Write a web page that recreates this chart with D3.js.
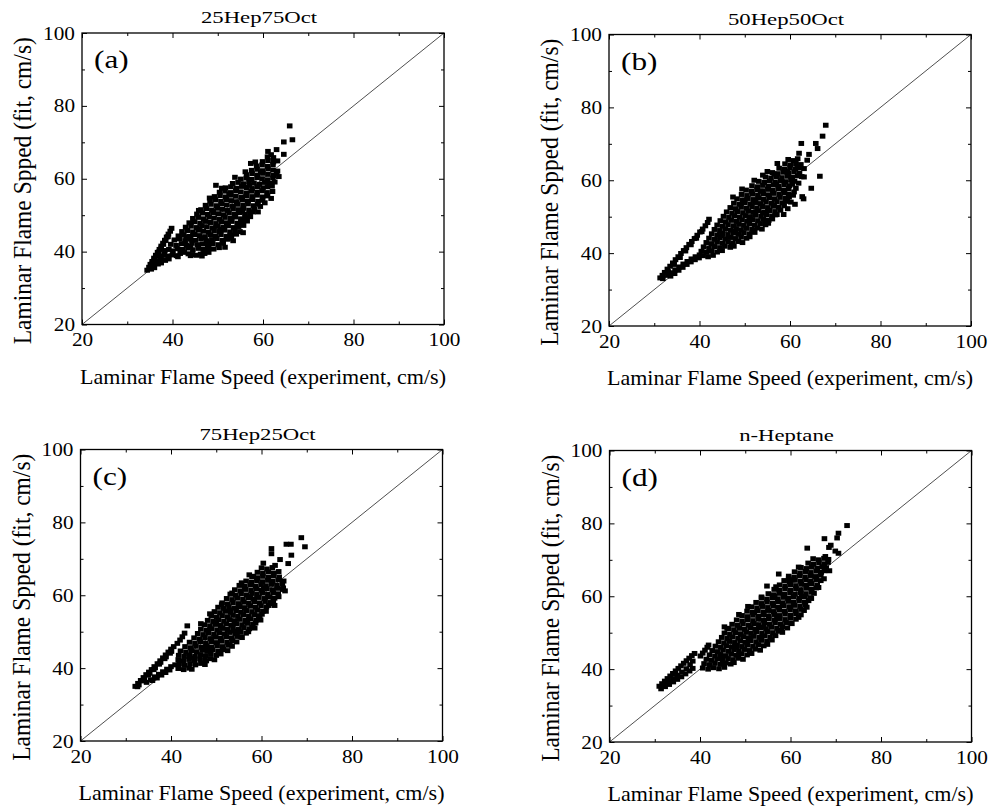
<!DOCTYPE html>
<html lang='en'>
<head>
<meta charset="utf-8">
<script src="https://d3js.org/d3.v7.min.js"></script>
<style>
  *{margin:0;padding:0}
  body{background:#fff}
</style>
</head>
<body>
<script>
// ---- data (experiment, fit) in cm/s ----
const panelTitles = ['25Hep75Oct', '50Hep50Oct', '75Hep25Oct', 'n-Heptane'];
const panelTags = ['(a)', '(b)', '(c)', '(d)'];
const majorTicks = [20, 40, 60, 80, 100];
const minorTicks = [30, 50, 70, 90];
const xTitle = 'Laminar Flame Speed (experiment, cm/s)';
const yTitle = 'Laminar Flame Spped (fit, cm/s)';

const pointsA = [
  [34.4,34.9],[34.8,35.7],[35.1,36.5],[35.5,37.3],[35.9,38.2],[36.3,39.0],[36.7,39.8],[37.1,40.6],[37.5,41.5],[37.9,42.3],
  [38.3,43.1],[38.7,44.0],[39.1,44.8],[39.5,45.6],[39.8,46.4],
  [35.0,35.4],[35.5,36.6],[36.0,37.7],[36.5,38.8],[37.0,39.9],[37.5,41.0],[38.0,42.0],[38.5,43.1],[39.0,44.1],
  [35.3,35.2],[36.0,35.6],[35.9,36.3],[36.8,36.6],[37.5,36.9],[36.6,37.5],[37.5,37.8],[38.4,37.6],[39.2,38.0],
  [37.3,38.7],[38.2,39.0],[39.1,38.8],[40.0,39.1],[40.9,38.9],
  [41.7,39.5],[42.6,39.8],[43.5,39.4],[44.4,39.2],[45.3,39.0],[46.2,39.3],[47.1,39.5],[48.0,39.8],
  [38.3,40.3],[39.2,40.6],[40.1,40.2],[41.1,40.8],[42.2,40.6],[43.4,41.0],[44.5,40.5],[45.7,40.9],[46.8,40.6],[48.0,41.0],[49.1,40.7],[50.3,41.1],
  [39.6,42.0],[40.8,41.7],[42.0,42.2],[43.1,41.8],[44.3,42.3],[45.5,41.9],[46.6,42.1],[47.8,41.7],[48.9,42.2],[50.1,41.9],[51.2,42.3],
  [40.4,43.2],[41.6,43.5],[42.8,43.0],[44.0,43.4],[45.1,43.1],[46.3,43.5],[47.5,43.0],[48.7,43.3],[49.8,43.6],[51.0,43.1],[52.2,43.4],[53.0,43.7],
  [41.3,44.3],[42.5,44.6],[43.7,44.2],[44.9,44.7],[46.0,44.4],[47.2,44.1],[48.4,44.6],[49.5,44.3],[50.7,44.7],[51.9,44.2],[53.0,44.5],[54.1,44.8],
  [42.1,45.5],[43.3,45.8],[44.5,45.4],[45.7,45.9],[46.8,45.6],[48.0,45.3],[49.2,45.8],[50.4,45.5],[51.5,45.9],[52.7,45.4],[53.8,45.7],[54.9,45.5],
  [42.9,46.7],[44.1,47.0],[45.3,46.6],[46.5,47.1],[47.6,46.8],[48.8,46.5],[50.0,47.0],[51.2,46.7],[52.3,47.1],[53.5,46.6],[54.6,46.9],[55.7,47.2],
  [43.7,47.9],[44.9,48.2],[46.1,47.8],[47.3,48.3],[48.4,48.0],[49.6,47.7],[50.8,48.2],[52.0,47.9],[53.1,48.3],[54.3,47.8],[55.4,48.1],[56.5,48.4],
  [44.5,49.1],[45.7,49.4],[46.9,49.0],[48.1,49.5],[49.2,49.2],[50.4,48.9],[51.6,49.4],[52.8,49.1],[53.9,49.5],[55.1,49.0],[56.2,49.3],[57.2,49.6],
  [45.4,50.3],[46.6,50.6],[47.8,50.2],[49.0,50.7],[50.1,50.4],[51.3,50.1],[52.5,50.6],[53.7,50.3],[54.8,50.7],[56.0,50.2],[57.1,50.5],[57.8,50.9],
  [46.3,51.5],[47.5,51.8],[48.7,51.4],[49.9,51.9],[51.0,51.6],[52.2,51.3],[53.4,51.8],[54.6,51.5],[55.7,51.9],[56.9,51.4],[58.1,51.7],
  [47.3,52.7],[48.5,53.0],[49.7,52.6],[50.9,53.1],[52.0,52.8],[53.2,52.5],[54.4,53.0],[55.6,52.7],[56.7,53.1],[57.9,52.6],[58.8,53.0],
  [48.3,53.9],[49.5,54.2],[50.7,53.8],[51.9,54.3],[53.0,54.0],[54.2,53.7],[55.4,54.2],[56.6,53.9],[57.7,54.3],[58.9,53.8],[59.9,54.1],
  [49.3,55.1],[50.5,55.4],[51.7,55.0],[52.9,55.5],[54.0,55.2],[55.2,54.9],[56.4,55.4],[57.6,55.1],[58.7,55.5],[59.9,55.0],[61.0,55.3],[61.8,54.6],
  [50.4,56.3],[51.6,56.6],[52.8,56.2],[54.0,56.7],[55.1,56.4],[56.3,56.1],[57.5,56.6],[58.7,56.3],[59.8,56.7],[60.9,56.2],
  [51.7,57.5],[52.9,57.8],[54.1,57.4],[55.3,57.9],[56.4,57.6],[57.6,57.3],[58.8,57.8],[60.0,57.5],[61.0,57.8],
  [53.3,58.7],[54.5,59.0],[55.7,58.6],[56.9,59.1],[58.0,58.8],[59.2,58.5],[60.4,59.0],[61.4,58.7],
  [55.1,59.9],[56.3,60.2],[57.5,59.8],[58.7,60.3],[59.8,60.0],[61.0,59.7],[62.2,60.2],
  [56.4,61.1],[57.6,61.4],[58.8,61.0],[60.0,61.5],[61.1,61.2],[62.3,60.9],[63.0,61.4],
  [57.5,62.3],[58.7,62.6],[59.9,62.2],[61.1,62.7],[62.2,62.4],[63.2,62.1],
  [58.6,63.5],[59.8,63.8],[61.0,63.4],[62.2,63.9],[59.9,64.7],[61.1,65.0],[62.3,64.6],[63.2,64.9],[61.0,66.0],[62.3,65.8],
  [44.0,41.4],[47.0,43.8],[50.5,46.2],[53.0,48.6],[55.5,51.0],[49.0,51.0],[46.0,46.2],[52.5,55.8],[57.0,58.2],[59.5,61.8],[43.0,44.0],[48.5,42.5],
  [58.9,50.9],[59.4,52.4],[60.4,53.4],[62.1,56.5],[62.0,58.0],[62.6,59.1],[63.5,60.6],[45.8,51.3],[48.2,54.7],[50.9,57.4],
  [53.8,60.4],[56.1,61.9],[58.3,64.6],[51.6,41.2],[53.4,43.0],[55.6,45.2],[41.2,38.6],[44.0,38.9],[46.5,38.8],
  [49.6,58.2],[57.3,64.2],[61.1,67.5],[63.0,68.0],[64.6,66.7],[64.6,70.1],[66.5,70.7],[65.9,74.5],[61.8,66.6]
];

const pointsB = [
  [31.3,33.2],[31.8,33.9],[32.3,34.7],[32.9,35.6],[33.5,36.4],[34.1,37.3],[34.7,38.2],[35.3,39.0],[35.9,39.9],[36.5,40.7],
  [37.1,41.5],[37.7,42.4],[38.3,43.2],[38.9,44.0],[39.5,44.9],[40.1,45.8],[40.7,46.6],[41.3,47.5],[41.8,48.4],[42.1,49.3],
  [31.9,33.0],[33.1,34.9],[34.4,36.9],[35.7,38.8],[36.9,40.6],[38.1,42.3],[39.3,44.1],[40.5,45.9],
  [33.0,33.9],[33.8,34.6],[34.6,35.4],[35.5,36.2],[36.4,37.0],[37.3,37.7],[38.2,38.4],[39.1,39.0],[40.0,39.5],
  [33.6,33.7],[34.5,34.4],[35.4,35.3],[36.3,36.1],[37.2,36.9],[38.1,37.6],[39.0,38.2],[39.9,38.7],
  [40.8,39.3],[41.9,39.0],[43.0,39.4],
  [40.4,40.5],[41.6,40.2],[42.7,40.6],[43.9,40.3],[45.0,40.7],
  [40.9,41.7],[42.1,41.4],[43.3,41.8],[44.5,41.5],[45.6,41.9],[46.8,41.6],[47.6,41.9],
  [41.5,42.9],[42.7,42.6],[43.9,43.0],[45.1,42.7],[46.3,43.1],[47.4,42.8],[48.6,43.2],[49.5,42.9],
  [42.1,44.1],[43.3,43.8],[44.5,44.2],[45.7,43.9],[46.9,44.3],[48.0,44.0],[49.2,44.4],[50.4,44.1],[51.1,44.5],
  [42.7,45.3],[43.9,45.0],[45.1,45.4],[46.3,45.1],[47.5,45.5],[48.6,45.2],[49.8,45.6],[51.0,45.3],[52.2,45.7],
  [43.3,46.5],[44.5,46.2],[45.7,46.6],[46.9,46.3],[48.1,46.7],[49.2,46.4],[50.4,46.8],[51.6,46.5],[52.8,46.9],[53.8,46.6],
  [43.9,47.7],[45.1,47.4],[46.3,47.8],[47.5,47.5],[48.7,47.9],[49.8,47.6],[51.0,48.0],[52.2,47.7],[53.4,48.1],[54.6,47.8],[55.2,48.2],
  [44.6,48.9],[45.8,48.6],[47.0,49.0],[48.2,48.7],[49.4,49.1],[50.5,48.8],[51.7,49.2],[52.9,48.9],[54.1,49.3],[55.3,49.0],[56.1,49.4],
  [45.3,50.1],[46.5,49.8],[47.7,50.2],[48.9,49.9],[50.1,50.3],[51.2,50.0],[52.4,50.4],[53.6,50.1],[54.8,50.5],[56.0,50.2],[57.1,50.6],
  [46.0,51.3],[47.2,51.0],[48.4,51.4],[49.6,51.1],[50.8,51.5],[51.9,51.2],[53.1,51.6],[54.3,51.3],[55.5,51.7],[56.7,51.4],[57.9,51.8],
  [46.8,52.5],[48.0,52.2],[49.2,52.6],[50.4,52.3],[51.6,52.7],[52.7,52.4],[53.9,52.8],[55.1,52.5],[56.3,52.9],[57.5,52.6],[58.7,53.0],
  [47.6,53.7],[48.8,53.4],[50.0,53.8],[51.2,53.5],[52.4,53.9],[53.5,53.6],[54.7,54.0],[55.9,53.7],[57.1,54.1],[58.3,53.8],[59.4,54.2],
  [48.3,54.9],[49.5,54.6],[50.7,55.0],[51.9,54.7],[53.1,55.1],[54.2,54.8],[55.4,55.2],[56.6,54.9],[57.8,55.3],[59.0,55.0],[59.8,55.4],
  [49.3,56.1],[50.5,55.8],[51.7,56.2],[52.9,55.9],[54.1,56.3],[55.2,56.0],[56.4,56.4],[57.6,56.1],[58.8,56.5],[59.7,56.2],
  [50.3,57.3],[51.5,57.0],[52.7,57.4],[53.9,57.1],[55.1,57.5],[56.2,57.2],[57.4,57.6],[58.6,57.3],[59.7,57.7],
  [51.6,58.5],[52.8,58.2],[54.0,58.6],[55.2,58.3],[56.4,58.7],[57.5,58.4],[58.7,58.8],[59.9,58.5],[60.5,58.9],
  [53.1,59.7],[54.3,59.4],[55.5,59.8],[56.7,59.5],[57.9,59.9],[59.0,59.6],[60.2,60.0],[61.0,59.7],
  [54.6,60.9],[55.8,60.6],[57.0,61.0],[58.2,60.7],[59.4,61.1],[60.5,60.8],[61.7,61.2],
  [56.1,62.1],[57.3,61.8],[58.5,62.2],[59.7,61.9],[60.9,62.3],[62.1,62.0],
  [57.6,63.3],[58.8,63.0],[60.0,63.4],[61.2,63.1],[62.2,63.5],[58.9,64.5],[60.1,64.2],[61.3,64.6],[62.4,64.3],
  [59.6,65.7],[60.8,65.4],[61.7,65.9],
  [45.0,44.8],[48.0,46.0],[51.0,49.0],[54.0,51.0],[56.5,53.0],[50.0,54.5],[53.5,57.0],[57.0,59.0],[59.5,62.5],[47.0,42.2],
  [58.6,50.6],[59.5,52.2],[60.2,54.0],[61.3,57.8],[61.9,59.2],[62.6,61.0],[47.4,55.4],[49.4,57.6],[52.1,60.0],[55.0,62.4],
  [57.2,64.6],[52.0,46.2],[54.5,48.2],[56.8,50.5],
  [54.0,61.4],[56.5,61.7],[60.7,55.9],[60.9,56.8],[61.1,53.4],[62.7,55.5],[63.0,54.9],[64.7,57.8],[63.1,60.9],[66.6,61.1],
  [61.6,63.7],[63.1,63.2],[63.8,65.5],[62.0,67.4],[62.5,70.1],[64.2,67.1],[65.7,70.1],[66.1,68.7],[67.2,72.1],[67.9,75.1]
];

const pointsC = [
  [32.1,35.0],[32.7,35.8],[33.3,36.6],[33.9,37.4],[34.5,38.2],[35.1,38.9],[35.7,39.6],[36.3,40.4],[37.0,41.2],[37.6,42.0],
  [38.2,42.8],[38.8,43.6],[39.4,44.4],[40.0,45.2],[40.6,45.9],[41.4,46.8],[42.0,47.7],[42.5,48.6],[43.0,49.6],[43.6,51.6],
  [32.6,34.9],[33.8,36.5],[35.0,38.1],[36.2,39.6],[37.4,41.1],[38.6,42.6],[39.8,44.1],
  [32.9,35.4],[34.1,37.0],[35.3,38.6],[36.5,40.1],[37.7,41.6],[38.9,43.1],[40.1,44.6],
  [34.6,36.1],[35.5,36.8],[36.4,37.6],[37.3,38.3],[38.2,39.0],[39.1,39.7],[40.0,40.4],[40.9,40.9],
  [35.9,36.6],[36.9,37.3],[37.9,38.1],[38.8,38.8],[39.7,39.5],
  [41.6,39.9],[42.8,39.6],[44.0,40.0],[44.6,39.7],
  [41.8,41.1],[43.0,40.8],[44.2,41.2],[45.4,40.9],[46.6,41.3],[47.5,41.0],
  [41.6,42.3],[42.8,42.0],[44.0,42.4],[45.2,42.1],[46.4,42.5],[47.5,42.2],[48.7,42.6],[49.6,42.3],
  [41.7,43.5],[42.9,43.2],[44.1,43.6],[45.3,43.3],[46.5,43.7],[47.6,43.4],[48.8,43.8],[50.0,43.5],[51.0,43.9],
  [42.1,44.7],[43.3,44.4],[44.5,44.8],[45.7,44.5],[46.9,44.9],[48.0,44.6],[49.2,45.0],[50.4,44.7],[51.6,45.1],[52.5,44.8],
  [43.1,45.9],[44.3,45.6],[45.5,46.0],[46.7,45.7],[47.9,46.1],[49.0,45.8],[50.2,46.2],[51.4,45.9],[52.6,46.3],[53.5,46.0],
  [44.1,47.1],[45.3,46.8],[46.5,47.2],[47.7,46.9],[48.9,47.3],[50.0,47.0],[51.2,47.4],[52.4,47.1],[53.6,47.5],[54.5,47.2],
  [45.1,48.3],[46.3,48.0],[47.5,48.4],[48.7,48.1],[49.9,48.5],[51.0,48.2],[52.2,48.6],[53.4,48.3],[54.6,48.7],[55.7,48.4],
  [45.9,49.5],[47.1,49.2],[48.3,49.6],[49.5,49.3],[50.7,49.7],[51.8,49.4],[53.0,49.8],[54.2,49.5],[55.4,49.9],[56.6,49.6],[57.1,50.0],
  [46.6,50.7],[47.8,50.4],[49.0,50.8],[50.2,50.5],[51.4,50.9],[52.5,50.6],[53.7,51.0],[54.9,50.7],[56.1,51.1],[57.3,50.8],[57.9,51.2],
  [47.4,51.9],[48.6,51.6],[49.8,52.0],[51.0,51.7],[52.2,52.1],[53.3,51.8],[54.5,52.2],[55.7,51.9],[56.9,52.3],[58.1,52.0],[58.7,52.4],
  [48.1,53.1],[49.3,52.8],[50.5,53.2],[51.7,52.9],[52.9,53.3],[54.0,53.0],[55.2,53.4],[56.4,53.1],[57.6,53.5],[58.8,53.2],[59.4,53.6],
  [48.9,54.3],[50.1,54.0],[51.3,54.4],[52.5,54.1],[53.7,54.5],[54.8,54.2],[56.0,54.6],[57.2,54.3],[58.4,54.7],[59.6,54.4],[60.1,54.8],
  [49.6,55.5],[50.8,55.2],[52.0,55.6],[53.2,55.3],[54.4,55.7],[55.5,55.4],[56.7,55.8],[57.9,55.5],[59.1,55.9],[60.3,55.6],
  [50.4,56.7],[51.6,56.4],[52.8,56.8],[54.0,56.5],[55.2,56.9],[56.3,56.6],[57.5,57.0],[58.7,56.7],[59.9,57.1],[61.1,56.8],[61.6,57.2],
  [51.3,57.9],[52.5,57.6],[53.7,58.0],[54.9,57.7],[56.1,58.1],[57.2,57.8],[58.4,58.2],[59.6,57.9],[60.8,58.3],[62.0,58.0],[62.6,58.4],
  [52.3,59.1],[53.5,58.8],[54.7,59.2],[55.9,58.9],[57.1,59.3],[58.2,59.0],[59.4,59.4],[60.6,59.1],[61.8,59.5],[62.9,59.2],
  [53.1,60.3],[54.3,60.0],[55.5,60.4],[56.7,60.1],[57.9,60.5],[59.0,60.2],[60.2,60.6],[61.4,60.3],[62.6,60.7],[63.7,60.4],
  [54.1,61.5],[55.3,61.2],[56.5,61.6],[57.7,61.3],[58.9,61.7],[60.0,61.4],[61.2,61.8],[62.4,61.5],[63.6,61.9],[64.7,61.6],
  [55.1,62.7],[56.3,62.4],[57.5,62.8],[58.7,62.5],[59.9,62.9],[61.0,62.6],[62.2,63.0],[63.4,62.7],[64.6,63.1],
  [56.6,63.9],[57.8,63.6],[59.0,64.0],[60.2,63.7],[61.4,64.1],[62.5,63.8],[63.7,64.2],[64.9,63.9],
  [57.9,65.1],[59.1,64.8],[60.3,65.2],[61.5,64.9],[62.7,65.3],[63.9,65.0],
  [59.1,66.3],[60.3,66.0],[61.5,66.4],[62.7,66.1],[63.8,66.5],[60.0,67.5],[61.2,67.2],[62.4,67.6],
  [45.0,42.8],[48.0,45.2],[51.0,47.8],[54.0,50.2],[56.5,52.8],[50.0,52.5],[53.0,56.0],[57.5,59.6],[60.5,62.0],[59.0,64.4],
  [58.5,51.0],[59.8,53.2],[61.0,55.6],[62.9,57.2],[63.8,59.6],[65.2,61.2],[46.6,52.2],[48.6,54.9],[51.2,57.4],[53.5,60.6],
  [55.6,63.4],[57.3,65.6],[50.6,44.6],[53.0,46.4],[55.4,48.6],[47.8,42.0],
  [58.2,65.2],[60.4,68.8],[62.2,71.4],[62.2,72.8],[65.5,74.0],[66.5,74.0],[68.8,75.8],[69.6,73.3],[66.6,71.0],[64.1,69.8],
  [65.9,68.7],[63.0,68.2],[62.6,57.7],[64.8,62.0]
];

const pointsD = [
  [31.0,35.3],[31.6,36.0],[32.2,36.7],[32.8,37.4],[33.4,38.1],[34.0,38.8],[34.6,39.5],[35.2,40.2],[35.8,40.9],[36.4,41.6],
  [37.0,42.3],[37.6,43.0],[38.2,43.7],[38.8,44.3],
  [31.4,34.6],[32.3,35.2],[33.2,35.8],[34.1,36.5],[35.0,37.2],[35.9,37.9],[36.8,38.7],[37.7,39.5],[38.4,40.2],
  [32.0,35.7],[33.0,36.5],[34.0,37.4],[35.0,38.3],[36.0,39.2],[37.0,40.1],[37.8,41.2],[38.4,42.2],
  [40.1,43.6],[40.6,44.4],[41.1,45.2],[41.6,46.0],[41.9,46.6],
  [40.6,40.3],[41.8,40.0],[43.0,40.4],[44.2,40.1],[45.4,40.5],
  [40.9,41.5],[42.1,41.2],[43.3,41.6],[44.5,41.3],[45.7,41.7],[46.8,41.4],[47.5,41.8],
  [41.4,42.7],[42.6,42.4],[43.8,42.8],[45.0,42.5],[46.2,42.9],[47.3,42.6],[48.5,43.0],[49.5,42.7],
  [42.1,43.9],[43.3,43.6],[44.5,44.0],[45.7,43.7],[46.9,44.1],[48.0,43.8],[49.2,44.2],[50.4,43.9],[51.4,44.3],
  [42.7,45.1],[43.9,44.8],[45.1,45.2],[46.3,44.9],[47.5,45.3],[48.6,45.0],[49.8,45.4],[51.0,45.1],[52.2,45.5],[53.3,45.2],
  [43.4,46.3],[44.6,46.0],[45.8,46.4],[47.0,46.1],[48.2,46.5],[49.3,46.2],[50.5,46.6],[51.7,46.3],[52.9,46.7],[54.1,46.4],[54.9,46.8],
  [44.1,47.5],[45.3,47.2],[46.5,47.6],[47.7,47.3],[48.9,47.7],[50.0,47.4],[51.2,47.8],[52.4,47.5],[53.6,47.9],[54.8,47.6],[55.9,48.0],
  [44.8,48.7],[46.0,48.4],[47.2,48.8],[48.4,48.5],[49.6,48.9],[50.7,48.6],[51.9,49.0],[53.1,48.7],[54.3,49.1],[55.5,48.8],[56.7,49.2],
  [45.4,49.9],[46.6,49.6],[47.8,50.0],[49.0,49.7],[50.2,50.1],[51.3,49.8],[52.5,50.2],[53.7,49.9],[54.9,50.3],[56.1,50.0],[57.3,50.4],[58.2,50.1],
  [46.3,51.1],[47.5,50.8],[48.7,51.2],[49.9,50.9],[51.1,51.3],[52.2,51.0],[53.4,51.4],[54.6,51.1],[55.8,51.5],[57.0,51.2],[58.2,51.6],[59.3,51.3],
  [47.1,52.3],[48.3,52.0],[49.5,52.4],[50.7,52.1],[51.9,52.5],[53.0,52.2],[54.2,52.6],[55.4,52.3],[56.6,52.7],[57.8,52.4],[59.0,52.8],[60.3,52.5],
  [48.1,53.5],[49.3,53.2],[50.5,53.6],[51.7,53.3],[52.9,53.7],[54.0,53.4],[55.2,53.8],[56.4,53.5],[57.6,53.9],[58.8,53.6],[60.0,54.0],[61.2,53.7],
  [49.3,54.7],[50.5,54.4],[51.7,54.8],[52.9,54.5],[54.1,54.9],[55.2,54.6],[56.4,55.0],[57.6,54.7],[58.8,55.1],[60.0,54.8],[61.2,55.2],[62.3,54.9],
  [50.4,55.9],[51.6,55.6],[52.8,56.0],[54.0,55.7],[55.2,56.1],[56.3,55.8],[57.5,56.2],[58.7,55.9],[59.9,56.3],[61.1,56.0],[62.3,56.4],[63.0,56.1],
  [51.4,57.1],[52.6,56.8],[53.8,57.2],[55.0,56.9],[56.2,57.3],[57.3,57.0],[58.5,57.4],[59.7,57.1],[60.9,57.5],[62.1,57.2],[63.3,57.6],
  [52.4,58.3],[53.6,58.0],[54.8,58.4],[56.0,58.1],[57.2,58.5],[58.3,58.2],[59.5,58.6],[60.7,58.3],[61.9,58.7],[63.1,58.4],[64.0,58.8],
  [53.6,59.5],[54.8,59.2],[56.0,59.6],[57.2,59.3],[58.4,59.7],[59.5,59.4],[60.7,59.8],[61.9,59.5],[63.1,59.9],[64.3,59.6],
  [55.1,60.7],[56.3,60.4],[57.5,60.8],[58.7,60.5],[59.9,60.9],[61.0,60.6],[62.2,61.0],[63.4,60.7],[64.6,61.1],[65.2,60.8],
  [56.4,61.9],[57.6,61.6],[58.8,62.0],[60.0,61.7],[61.2,62.1],[62.3,61.8],[63.5,62.2],[64.7,61.9],[65.7,62.3],
  [57.6,63.1],[58.8,62.8],[60.0,63.2],[61.2,62.9],[62.4,63.3],[63.5,63.0],[64.7,63.4],[65.9,63.1],
  [58.6,64.3],[59.8,64.0],[61.0,64.4],[62.2,64.1],[63.4,64.5],[64.5,64.2],[65.7,64.6],[66.7,64.3],
  [59.6,65.5],[60.8,65.2],[62.0,65.6],[63.2,65.3],[64.4,65.7],[65.5,65.4],[66.7,65.8],
  [60.9,66.7],[62.1,66.4],[63.3,66.8],[64.5,66.5],[65.7,66.9],[66.8,66.6],[67.5,67.0],
  [62.3,67.9],[63.5,67.6],[64.7,68.0],[65.9,67.7],[67.0,68.1],[67.9,67.8],
  [63.9,69.1],[65.1,68.8],[66.3,69.2],[67.5,68.9],[68.3,69.3],[65.0,70.3],[66.2,70.0],[67.4,70.4],[68.4,70.1],
  [45.0,43.4],[48.0,46.0],[51.0,48.4],[54.0,51.5],[57.0,54.0],[60.0,57.0],[62.5,60.0],[64.5,63.5],[52.0,55.5],[56.5,60.0],[60.5,64.5],
  [58.0,50.6],[60.0,52.6],[61.8,54.2],[63.6,57.0],[64.6,59.4],[66.2,62.4],[67.4,64.8],[68.6,67.0],[45.4,51.6],[48.6,55.0],
  [50.6,57.2],[53.6,59.8],[56.8,62.6],[59.6,64.8],[61.8,68.0],
  [46.0,51.2],[54.8,62.8],[57.4,66.1],[63.7,73.2],[67.5,75.8],[68.5,73.4],[68.9,74.0],[70.3,76.0],[70.6,77.3],[72.5,79.4],
  [67.7,70.9],[70.6,71.8],[69.9,72.4]
];

const panelPoints = [pointsA, pointsB, pointsC, pointsD];

// ---- layout ----
const FONT = '"Liberation Serif","Times New Roman",Times,serif';
const W = 362, H = 291.5;
const frames = [
  {left: 82, top: 33},
  {left: 609, top: 34.5},
  {left: 80.5, top: 449.5},
  {left: 609.5, top: 450.5}
];
const markW = 5.6, markH = 5.0;
const tickSX = 1.15;

const svg = d3.select('body').append('svg')
  .attr('width', 990)
  .attr('height', 807);
svg.append('rect').attr('width', 990).attr('height', 807).attr('fill', '#fff');

// text, optionally stretched sideways like the figure's
function wideText(parent, str, x, y, size, sx, extra) {
  return parent.append('text')
    .attr('transform', `translate(${x},${y}) scale(${sx},1)${extra || ''}`)
    .attr('text-anchor', 'middle')
    .attr('font-family', FONT)
    .attr('font-size', size)
    .attr('fill', '#000')
    .text(str);
}

function addAxis(g, axis, tf) {
  const a = g.append('g').attr('transform', tf).call(axis);
  a.select('.domain').remove();
  a.attr('font-family', FONT).attr('font-size', 18.5);
  a.selectAll('line').attr('stroke', '#000').attr('stroke-width', 1);
  return a;
}

frames.forEach((f, i) => {
  const g = svg.append('g').attr('transform', `translate(${f.left},${f.top})`);
  const x = d3.scaleLinear().domain([20, 100]).range([0, W]);
  const y = d3.scaleLinear().domain([20, 100]).range([H, 0]);

  // y = x reference line
  g.append('line')
    .attr('x1', x(20)).attr('y1', y(20))
    .attr('x2', x(100)).attr('y2', y(100))
    .attr('stroke', '#222')
    .attr('stroke-width', 0.8);

  g.selectAll('rect.pt')
    .data(panelPoints[i])
    .enter()
    .append('rect')
    .attr('class', 'pt')
    .attr('x', d => x(d[0]) - markW / 2)
    .attr('y', d => y(d[1]) - markH / 2)
    .attr('width', markW)
    .attr('height', markH)
    .attr('fill', '#000');

  // ticks, all pointing inward
  const bottom = addAxis(g, d3.axisBottom(x).tickValues(majorTicks).tickSize(-5).tickFormat(d3.format('d')), `translate(0,${H})`);
  bottom.selectAll('text')
    .attr('y', 22).attr('dy', null)
    .attr('fill', '#000')
    .attr('transform', `scale(${tickSX},1)`);
  addAxis(g, d3.axisBottom(x).tickValues(minorTicks).tickSize(-3).tickFormat(''), `translate(0,${H})`);
  addAxis(g, d3.axisTop(x).tickValues(majorTicks).tickSize(-5).tickFormat(''), 'translate(0,0)');
  addAxis(g, d3.axisTop(x).tickValues(minorTicks).tickSize(-3).tickFormat(''), 'translate(0,0)');

  const left = addAxis(g, d3.axisLeft(y).tickValues(majorTicks).tickSize(-5).tickFormat(d3.format('d')), 'translate(0,0)');
  left.selectAll('text')
    .attr('x', -7 / tickSX).attr('dy', '0.33em')
    .attr('fill', '#000')
    .attr('transform', `scale(${tickSX},1)`);
  addAxis(g, d3.axisLeft(y).tickValues(minorTicks).tickSize(-3).tickFormat(''), 'translate(0,0)');
  addAxis(g, d3.axisRight(y).tickValues(majorTicks).tickSize(-5).tickFormat(''), `translate(${W},0)`);
  addAxis(g, d3.axisRight(y).tickValues(minorTicks).tickSize(-3).tickFormat(''), `translate(${W},0)`);

  // frame
  g.append('rect')
    .attr('width', W).attr('height', H)
    .attr('fill', 'none')
    .attr('stroke', '#000')
    .attr('stroke-width', 1.3);

  // texts
  wideText(g, panelTitles[i], W / 2 - 4, -10, 17.5, 1.3);
  wideText(g, panelTags[i], 12, 35, 26, 1.2).attr('text-anchor', 'start');
  wideText(g, xTitle, W / 2, H + 59, 22, 1);
  wideText(g, yTitle, -51, H / 2 + 12, 23.5, 1.05, ' rotate(-90)');
});
</script>
</body>
</html>
